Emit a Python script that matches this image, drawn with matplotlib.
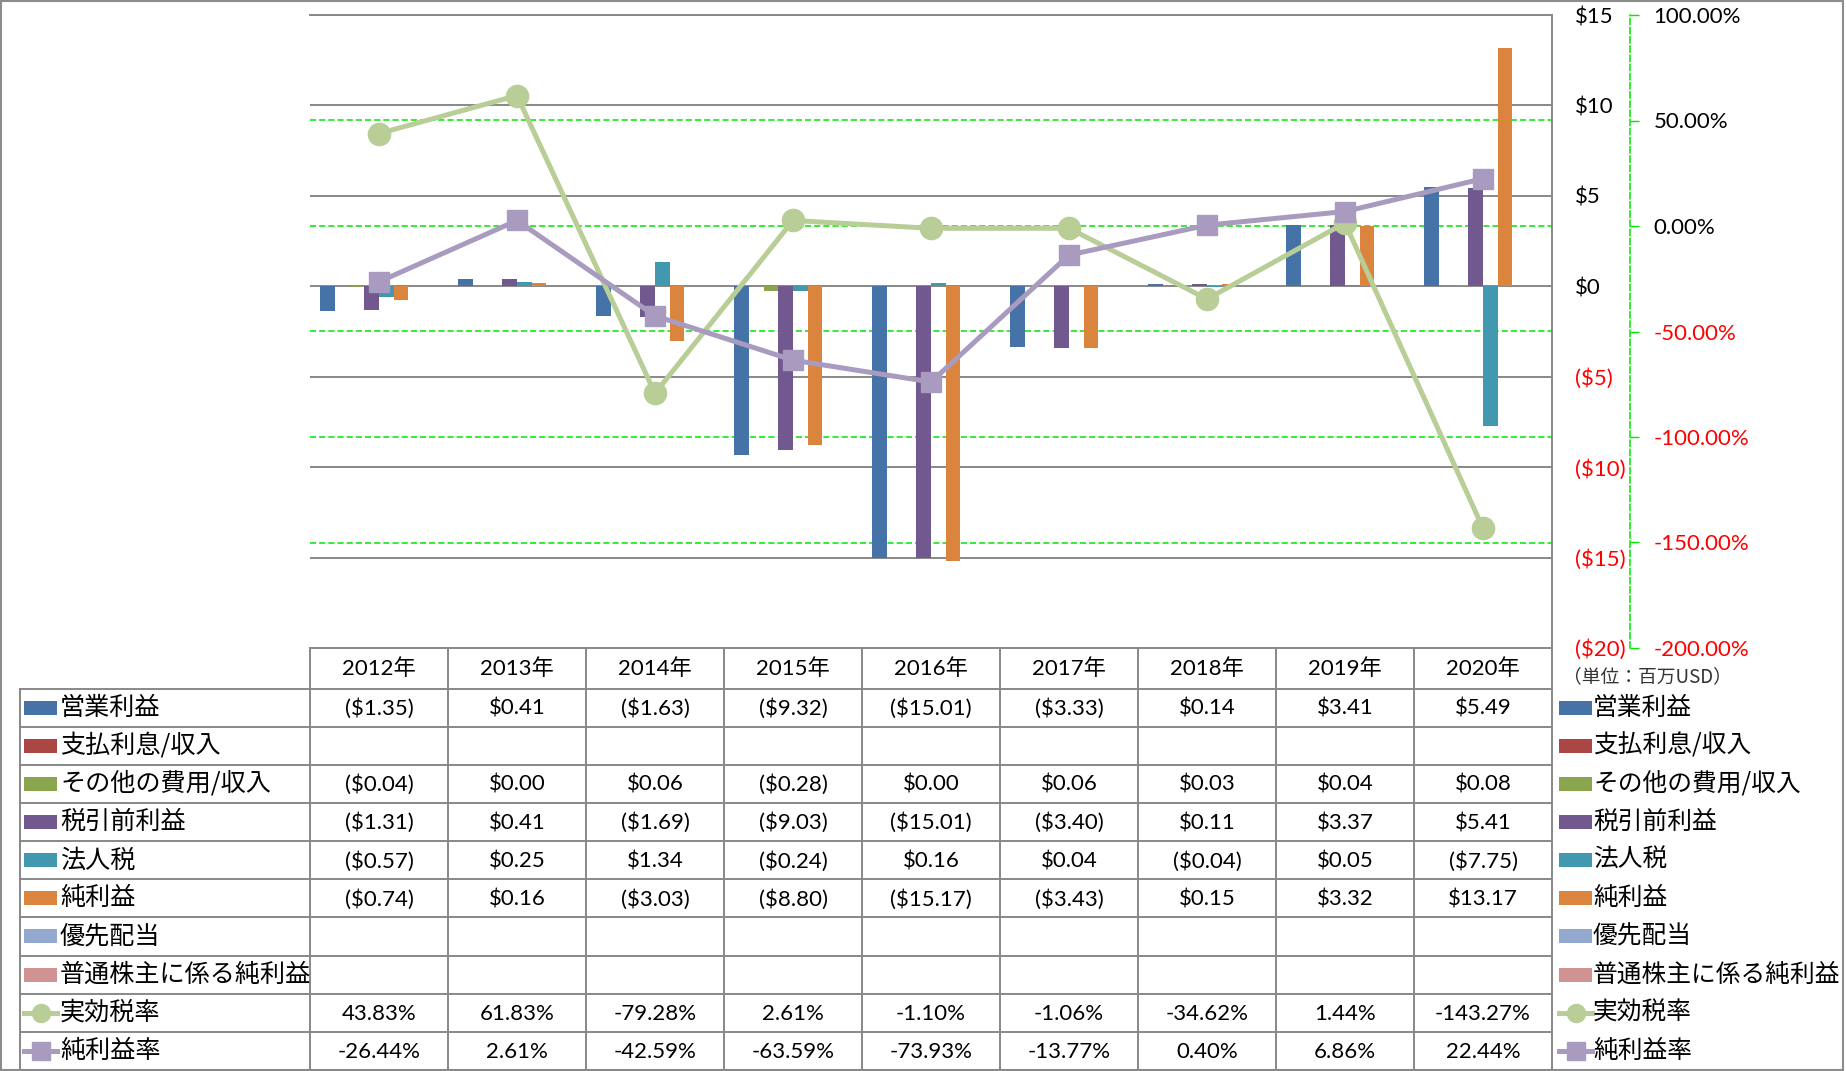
import matplotlib.pyplot as plt
import numpy as np
from matplotlib.lines import Line2D
from matplotlib.patches import Rectangle

# Excel-style combo chart with a data table underneath (values in million USD).
plt.rcParams["font.family"] = ["Lato", "Noto Sans CJK JP", "DejaVu Sans"]

W, H = 1846, 1071

years = ["2012年", "2013年", "2014年", "2015年", "2016年", "2017年", "2018年", "2019年", "2020年"]

bar_names = [
    "営業利益",
    "支払利息/収入",
    "その他の費用/収入",
    "税引前利益",
    "法人税",
    "純利益",
    "優先配当",
    "普通株主に係る純利益",
]
operating_income = [-1.35, 0.41, -1.63, -9.32, -15.01, -3.33, 0.14, 3.41, 5.49]
interest = [None] * 9
other_expense = [-0.04, 0.00, 0.06, -0.28, 0.00, 0.06, 0.03, 0.04, 0.08]
pretax_income = [-1.31, 0.41, -1.69, -9.03, -15.01, -3.40, 0.11, 3.37, 5.41]
income_tax = [-0.57, 0.25, 1.34, -0.24, 0.16, 0.04, -0.04, 0.05, -7.75]
net_income = [-0.74, 0.16, -3.03, -8.80, -15.17, -3.43, 0.15, 3.32, 13.17]
preferred_div = [None] * 9
common_income = [None] * 9
bar_values = [operating_income, interest, other_expense, pretax_income,
              income_tax, net_income, preferred_div, common_income]
bar_colors = ["#4572A7", "#AA4643", "#89A54E", "#71588F",
              "#4198AF", "#DB843D", "#93A9CF", "#D19392"]

line_names = ["実効税率", "純利益率"]
tax_rate = [43.83, 61.83, -79.28, 2.61, -1.10, -1.06, -34.62, 1.44, -143.27]
net_margin = [-26.44, 2.61, -42.59, -63.59, -73.93, -13.77, 0.40, 6.86, 22.44]
line_values = [tax_rate, net_margin]
line_colors = ["#B9CD96", "#A99BC0"]
line_markers = ["o", "s"]

usd_ticks = [-20, -15, -10, -5, 0, 5, 10, 15]
pct_ticks = [-200, -150, -100, -50, 0, 50, 100]

# layout in pixels
PLOT_L, PLOT_R, PLOT_T, PLOT_B = 310, 1552, 15, 648
HEAD_B = 688.5
ROW_H = 38.15
TABLE_L = 20
GRID_GRAY = "#888888"
LIME = "#00E600"
NUM_SIZE = 16
JP_SIZE = 18.1


def fmt_usd(v):
    if v is None:
        return ""
    return f"${v:.2f}" if v >= 0 else f"(${-v:.2f})"


def fmt_pct(v):
    return f"{v:.2f}%"


fig = plt.figure(figsize=(W / 100, H / 100), dpi=100)
ax = fig.add_axes([PLOT_L / W, 1 - PLOT_B / H, (PLOT_R - PLOT_L) / W, (PLOT_B - PLOT_T) / H])
ax2 = ax.twinx()
ax.set_zorder(1)
ax2.set_zorder(2)
ax.patch.set_visible(False)

n_cat = len(years)
x = np.arange(n_cat)
bw = 0.106
for i, (vals, color) in enumerate(zip(bar_values, bar_colors)):
    if all(v is None for v in vals):
        continue
    ax.bar(x + (i - 3.5) * bw, vals, width=bw, color=color, zorder=3, linewidth=0)

for v in usd_ticks[1:]:
    ax.axhline(v, color=GRID_GRAY, linewidth=1.4, zorder=1)
for p in pct_ticks[1:-1]:
    ax.plot([-0.5, n_cat - 0.5], [p, p], transform=ax2.transData, color=LIME,
            linewidth=1.1, dashes=(4, 2), zorder=1)

for vals, color, marker in zip(line_values, line_colors, line_markers):
    ax2.plot(x, vals, color=color, linewidth=3.6, marker=marker,
             markersize=16 if marker == "o" else 15, markerfacecolor=color,
             markeredgecolor=color, solid_joinstyle="round", zorder=4)

ax.set_xlim(-0.5, n_cat - 0.5)
ax.set_ylim(-20, 15)
ax2.set_ylim(-200, 100)
ax.set_xticks([])

for name in ["left", "bottom"]:
    ax.spines[name].set_visible(False)
for name in ["top", "right"]:
    ax.spines[name].set_color(GRID_GRAY)
    ax.spines[name].set_linewidth(1.4)
for name in ["left", "top", "bottom"]:
    ax2.spines[name].set_visible(False)
ax2.spines["right"].set_position(("outward", 56))
ax2.spines["right"].set_color(LIME)
ax2.spines["right"].set_linewidth(1.1)
ax2.spines["right"].set_linestyle((0, (4, 2)))

ax.yaxis.tick_right()
ax.set_yticks(usd_ticks)
ax.set_yticklabels([f"${v}" if v >= 0 else f"(${-v})" for v in usd_ticks])
ax.tick_params(axis="y", length=0, pad=16.5, labelsize=NUM_SIZE)
for tick, v in zip(ax.yaxis.get_major_ticks(), usd_ticks):
    tick.label1.set_color("red" if v < 0 else "black")
    tick.label2.set_color("red" if v < 0 else "black")

ax2.set_yticks(pct_ticks)
ax2.set_yticklabels([fmt_pct(p) for p in pct_ticks])
ax2.tick_params(axis="y", length=6.5, width=1, color=LIME, pad=10.5, labelsize=NUM_SIZE)
for tick, p in zip(ax2.yaxis.get_major_ticks(), pct_ticks):
    tick.label1.set_color("red" if p < 0 else "black")
    tick.label2.set_color("red" if p < 0 else "black")

# data table and legends drawn in pixel coordinates
ov = fig.add_axes([0, 0, 1, 1], zorder=5)
ov.set_xlim(0, W)
ov.set_ylim(H, 0)
ov.axis("off")

col_w = (PLOT_R - PLOT_L) / n_cat
n_rows = len(bar_names) + len(line_names)
table_b = HEAD_B + n_rows * ROW_H
lw_tab = 1.4

ov.plot([PLOT_L, PLOT_R], [PLOT_B, PLOT_B], color=GRID_GRAY, lw=lw_tab)
for r in range(n_rows + 1):
    y = HEAD_B + r * ROW_H
    ov.plot([TABLE_L, PLOT_R], [y, y], color=GRID_GRAY, lw=lw_tab)
ov.plot([TABLE_L, TABLE_L], [HEAD_B, table_b], color=GRID_GRAY, lw=lw_tab)
for c in range(n_cat + 1):
    xc = PLOT_L + c * col_w
    ov.plot([xc, xc], [PLOT_B, table_b], color=GRID_GRAY, lw=lw_tab)

for c, yr in enumerate(years):
    ov.text(PLOT_L + (c + 0.5) * col_w, (PLOT_B + HEAD_B) / 2, yr,
            ha="center", va="center", fontsize=NUM_SIZE)

row_texts = [[fmt_usd(v) for v in vals] for vals in bar_values]
row_texts += [[fmt_pct(v) for v in vals] for vals in line_values]
for r, texts in enumerate(row_texts):
    yc = HEAD_B + (r + 0.5) * ROW_H
    for c, t in enumerate(texts):
        ov.text(PLOT_L + (c + 0.5) * col_w, yc + 1, t, ha="center", va="center",
                fontsize=NUM_SIZE)


def legend_key(x0, yc, r):
    if r < len(bar_names):
        ov.add_patch(Rectangle((x0, yc - 7), 33, 14, color=bar_colors[r], lw=0))
    else:
        k = r - len(bar_names)
        ov.add_line(Line2D([x0, x0 + 33], [yc, yc], color=line_colors[k], lw=3.6))
        ov.add_line(Line2D([x0 + 16.5], [yc], marker=line_markers[k], markersize=13,
                           color=line_colors[k], lw=0))


all_names = bar_names + line_names
for r, name in enumerate(all_names):
    yc = HEAD_B + (r + 0.5) * ROW_H
    legend_key(24, yc, r)
    ov.text(60, yc, name, ha="left", va="center", fontsize=JP_SIZE, family="Noto Sans CJK JP")
    legend_key(1559, yc, r)
    ov.text(1593, yc, name, ha="left", va="center", fontsize=JP_SIZE - 0.3,
            family="Noto Sans CJK JP")

ov.text(1563, 677, "（単位：百万USD）", ha="left", va="center", fontsize=13.5,
        family="Noto Sans CJK JP", color="#333333")

fig.add_artist(Rectangle((0.0005, 0.001), 0.998, 0.998, transform=fig.transFigure,
                         fill=False, edgecolor="#8C8C8C", linewidth=1.5))

fig.savefig("out.png", dpi=100)
